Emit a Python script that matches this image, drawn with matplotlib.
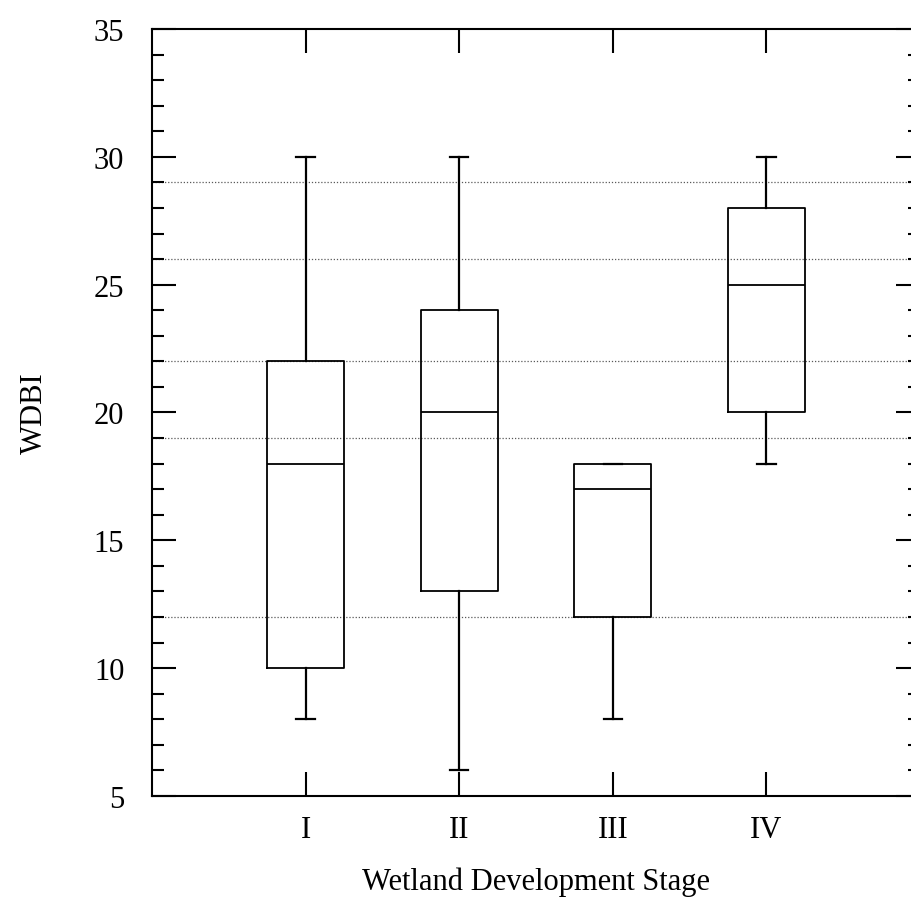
import matplotlib.pyplot as plt
from matplotlib.ticker import MultipleLocator

plt.rcParams['font.family'] = ['Liberation Serif', 'DejaVu Serif']

# box statistics per development stage
stages = ["I", "II", "III", "IV"]
whisker_low = [8, 6, 8, 18]
q1 = [10, 13, 12, 20]
medians = [18, 20, 17, 25]
q3 = [22, 24, 18, 28]
whisker_high = [30, 30, 18, 30]

# dotted reference lines
ref_lines = [12, 19, 22, 26, 29]

stats = []
for lo, a, m, b, hi, name in zip(whisker_low, q1, medians, q3, whisker_high, stages):
    stats.append({"whislo": lo, "q1": a, "med": m, "q3": b, "whishi": hi,
                  "fliers": [], "label": name})

fig = plt.figure(figsize=(9.12, 9.03), dpi=100)
ax = fig.add_axes([0.1667, 0.1174, 0.8421, 0.8494])

for y in ref_lines:
    ax.axhline(y, color="0.35", linestyle=(0, (1, 1.5)), linewidth=0.9, zorder=0)

lp = dict(color="black", linewidth=1.3)
ax.bxp(stats, positions=[1, 2, 3, 4], widths=0.5, showfliers=False,
       boxprops=lp, whiskerprops=dict(color="black", linewidth=1.6),
       capprops=dict(color="black", linewidth=1.6), medianprops=lp,
       capwidths=0.12)

ax.set_xlim(0, 5)
ax.set_ylim(5, 35)
ax.set_xticks([1, 2, 3, 4])
ax.set_xticklabels(stages)
ax.yaxis.set_major_locator(MultipleLocator(5))
ax.yaxis.set_minor_locator(MultipleLocator(1))

ax.tick_params(axis="both", which="both", direction="in", top=True, right=True, width=1.5)
ax.tick_params(axis="both", which="major", length=17)
ax.tick_params(axis="both", which="minor", length=8.5)
ax.tick_params(axis="x", which="minor", bottom=False, top=False)
ax.tick_params(axis="y", which="major", labelsize=22, pad=20)
ax.tick_params(axis="x", which="major", labelsize=22, pad=14)

for s in ax.spines.values():
    s.set_linewidth(1.5)

ax.set_xlabel("Wetland Development Stage", fontsize=22, labelpad=16)
ax.set_ylabel("WDBI", fontsize=22, labelpad=32)

fig.savefig("out.png", dpi=100)
